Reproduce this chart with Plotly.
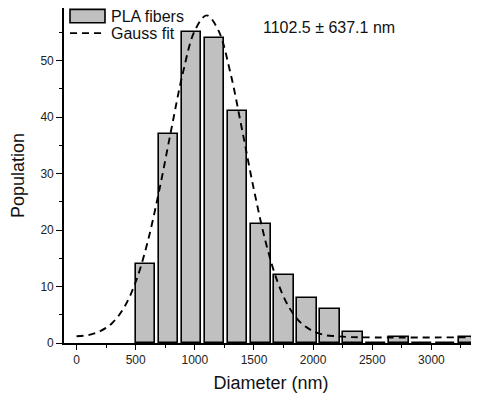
import plotly.graph_objects as go

# Histogram bins (left edge of each bin, nm) and counts
bin_start = [500, 695, 890, 1085, 1280, 1475, 1670, 1865, 2060, 2255, 2450, 2645, 2840, 3035, 3230]
counts = [14, 37, 55, 54, 41, 21, 12, 8, 6, 2, 0, 1, 0, 0, 1]

# Gauss fit curve
fit_x = [0, 100, 200, 300, 400, 500, 600, 700, 800, 900, 1000, 1100, 1200, 1300, 1400,
         1500, 1600, 1700, 1800, 1900, 2000, 2100, 2200, 2300, 2400, 3400]
fit_y = [1.2, 1.4, 2.1, 3.5, 6.2, 10.8, 17.8, 27.1, 37.7, 47.9, 55.3, 58.0, 55.3, 47.9, 37.7,
         27.1, 17.8, 10.8, 6.2, 3.5, 2.1, 1.4, 1.2, 1.05, 1.0, 1.0]

x_ticks = [0, 500, 1000, 1500, 2000, 2500, 3000]
y_ticks = [0, 10, 20, 30, 40, 50]
series_names = ["PLA fibers", "Gauss fit"]

FONT = "Arial, Liberation Sans, sans-serif"
BAR_FILL = "#c0c0c0"
DASH = "7px,5px"

fig = go.Figure()
fig.add_trace(go.Bar(
    x=bin_start, y=counts, width=165, offset=0,
    marker=dict(color=BAR_FILL, line=dict(color="black", width=1.6)),
    name=series_names[0],
))
fig.add_trace(go.Scatter(
    x=fit_x, y=fit_y, mode="lines",
    line=dict(color="black", dash=DASH, width=1.9, shape="spline"),
    name=series_names[1],
))

# Legend drawn to match the reference (wide swatch)
fig.add_shape(type="rect", xref="paper", yref="paper", x0=0.0145, x1=0.099, y0=0.956, y1=0.996,
              fillcolor=BAR_FILL, line=dict(color="black", width=1.6))
fig.add_shape(type="line", xref="paper", yref="paper", x0=0.0145, x1=0.099, y0=0.925, y1=0.925,
              line=dict(color="black", width=1.9, dash=DASH))
for name, yy in zip(series_names, [0.976, 0.925]):
    fig.add_annotation(text=name, xref="paper", yref="paper", x=0.1087, y=yy,
                       xanchor="left", yanchor="middle", showarrow=False,
                       font=dict(family=FONT, size=16, color="#111"))

fig.add_annotation(text="1102.5 ± 637.1 nm", xref="paper", yref="paper", x=0.64, y=0.943,
                   xanchor="center", yanchor="middle", showarrow=False,
                   font=dict(family=FONT, size=16, color="#111"))

# page body has an 8px margin, so the figure is sized to fit the window
fig.update_layout(
    width=471, height=395,
    margin=dict(l=56, r=1, t=0, b=60),
    paper_bgcolor="white", plot_bgcolor="white",
    font=dict(family=FONT, color="#111"),
    showlegend=False,
    bargap=0,
)
fig.update_xaxes(
    range=[-106, 3394], showgrid=False, zeroline=False, automargin=False,
    showline=True, linecolor="black", linewidth=1.6,
    ticks="outside", ticklen=5, tickwidth=1.2, tickcolor="black",
    tickvals=x_ticks, tickfont=dict(size=12, color="#222"),
    minor=dict(dtick=250, tick0=0, ticks="outside", ticklen=3, tickcolor="black", tickwidth=1),
    title=dict(text="Diameter (nm)", font=dict(size=18, color="#111"), standoff=10),
)
fig.update_yaxes(
    range=[0, 59.3], showgrid=False, zeroline=False, automargin=True,
    showline=True, linecolor="black", linewidth=1.6,
    ticks="outside", ticklen=6, tickwidth=1.2, tickcolor="black",
    tickvals=y_ticks, tickfont=dict(size=12, color="#222"),
    minor=dict(dtick=5, tick0=0, ticks="outside", ticklen=3, tickcolor="black", tickwidth=1),
    title=dict(text="Population", font=dict(size=18, color="#111"), standoff=12),
)

fig.write_html("out.html")
